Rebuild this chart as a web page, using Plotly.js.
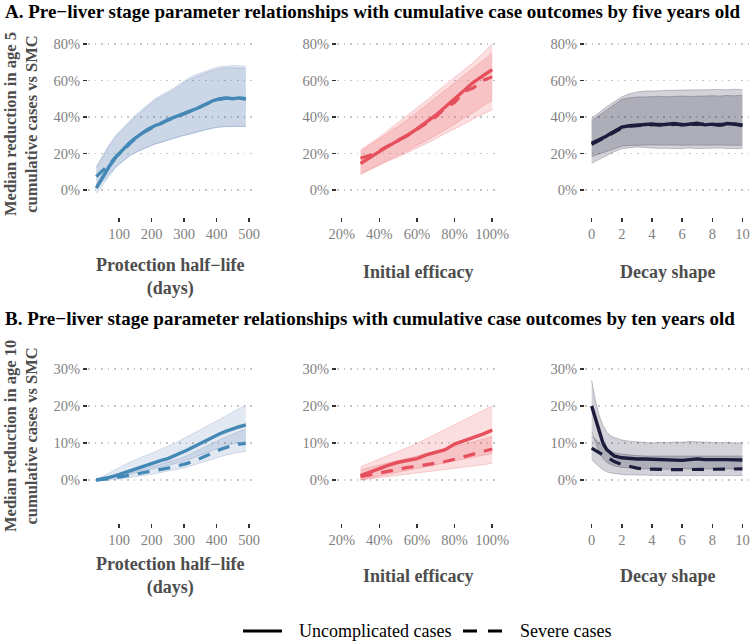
<!DOCTYPE html>
<html>
<head>
<meta charset="utf-8">
<script src="https://cdn.plot.ly/plotly-3.0.1.min.js"></script>
<style>html,body{margin:0;padding:0;background:#fff;}#chart{width:752px;height:643px;}</style>
</head>
<body>
<div id="chart"></div>
<script>
// ---------- x values ----------
const halfLife = [30,50,70,90,110,130,150,170,190,210,230,250,270,290,310,330,350,370,390,410,430,450,470,490];
const efficacy = [0.30,0.35,0.40,0.45,0.50,0.55,0.60,0.65,0.70,0.75,0.80,0.85,0.90,0.95,1.00];
const decayShape = [0,0.25,0.5,0.75,1,1.25,1.5,2,2.5,3,3.5,4,4.5,5,5.5,6,6.5,7,7.5,8,8.5,9,9.5,10];

// ---------- A1: half-life, age 5 ----------
const a1Unc   = [0.01,0.07,0.13,0.18,0.22,0.255,0.285,0.31,0.335,0.352,0.365,0.385,0.398,0.41,0.425,0.44,0.455,0.475,0.49,0.50,0.505,0.50,0.505,0.50];
const a1Sev   = [0.073,0.105,0.14,0.18,0.215,0.25,0.282,0.31,0.332,0.35,0.367,0.383,0.397,0.41,0.424,0.44,0.457,0.474,0.488,0.497,0.503,0.499,0.503,0.498];
const a1UncLo = [-0.02,0.03,0.08,0.125,0.155,0.185,0.205,0.222,0.238,0.252,0.262,0.275,0.285,0.295,0.303,0.312,0.322,0.333,0.34,0.345,0.348,0.348,0.35,0.348];
const a1UncHi = [0.12,0.18,0.24,0.29,0.33,0.365,0.40,0.43,0.46,0.49,0.51,0.53,0.55,0.575,0.60,0.615,0.63,0.645,0.655,0.665,0.67,0.67,0.668,0.665];
const a1SevLo = [0.01,0.05,0.09,0.125,0.155,0.183,0.204,0.222,0.237,0.25,0.262,0.274,0.284,0.294,0.303,0.312,0.322,0.333,0.34,0.345,0.348,0.349,0.35,0.348];
const a1SevHi = [0.13,0.19,0.25,0.30,0.34,0.375,0.41,0.44,0.47,0.50,0.52,0.54,0.56,0.585,0.61,0.628,0.642,0.656,0.666,0.675,0.68,0.682,0.68,0.678];

// ---------- A2: efficacy, age 5 ----------
const a2Unc   = [0.145,0.18,0.21,0.242,0.27,0.30,0.335,0.37,0.41,0.455,0.50,0.545,0.59,0.625,0.66];
const a2Sev   = [0.174,0.19,0.215,0.245,0.272,0.30,0.335,0.368,0.40,0.45,0.48,0.54,0.56,0.60,0.62];
const a2UncLo = [0.09,0.115,0.14,0.165,0.19,0.215,0.245,0.27,0.30,0.33,0.36,0.395,0.425,0.46,0.49];
const a2UncHi = [0.21,0.245,0.28,0.315,0.35,0.385,0.425,0.465,0.505,0.545,0.585,0.625,0.665,0.71,0.75];
const a2SevLo = [0.085,0.11,0.135,0.16,0.18,0.205,0.23,0.255,0.28,0.31,0.335,0.36,0.39,0.415,0.44];
const a2SevHi = [0.22,0.255,0.29,0.33,0.37,0.41,0.45,0.49,0.535,0.575,0.615,0.66,0.70,0.75,0.80];

// ---------- A3: decay shape, age 5 ----------
const a3Unc   = [0.256,0.265,0.275,0.285,0.296,0.31,0.322,0.345,0.352,0.354,0.36,0.362,0.356,0.36,0.364,0.356,0.362,0.366,0.357,0.361,0.355,0.364,0.36,0.356];
const a3Sev   = [0.25,0.26,0.27,0.282,0.293,0.305,0.318,0.34,0.35,0.352,0.356,0.358,0.36,0.355,0.36,0.36,0.358,0.36,0.362,0.358,0.36,0.358,0.362,0.352];
const a3UncLo = [0.183,0.19,0.197,0.204,0.21,0.218,0.226,0.24,0.244,0.246,0.245,0.247,0.246,0.244,0.246,0.245,0.247,0.246,0.245,0.247,0.246,0.245,0.246,0.245];
const a3UncHi = [0.393,0.41,0.425,0.44,0.456,0.47,0.485,0.511,0.527,0.537,0.542,0.545,0.544,0.546,0.547,0.545,0.548,0.547,0.55,0.548,0.551,0.549,0.552,0.55];
const a3SevLo = [0.146,0.157,0.168,0.18,0.19,0.2,0.21,0.226,0.232,0.236,0.233,0.23,0.228,0.229,0.226,0.228,0.23,0.227,0.229,0.228,0.23,0.227,0.229,0.228];
const a3SevHi = [0.38,0.395,0.41,0.425,0.44,0.455,0.47,0.497,0.505,0.51,0.51,0.512,0.513,0.511,0.514,0.515,0.513,0.516,0.515,0.517,0.515,0.518,0.516,0.52];

// ---------- B1: half-life, age 10 ----------
const b1Unc   = [0,0.003,0.007,0.012,0.018,0.025,0.031,0.037,0.043,0.048,0.053,0.058,0.065,0.072,0.081,0.09,0.099,0.108,0.117,0.125,0.132,0.139,0.144,0.149];
const b1Sev   = [0,0.001,0.003,0.006,0.009,0.012,0.016,0.019,0.022,0.025,0.029,0.032,0.036,0.04,0.045,0.051,0.058,0.066,0.074,0.082,0.089,0.094,0.097,0.099];
const b1UncLo = [-0.003,0,0.003,0.006,0.01,0.014,0.019,0.023,0.027,0.031,0.035,0.039,0.043,0.048,0.054,0.06,0.067,0.074,0.081,0.087,0.093,0.098,0.101,0.104];
const b1UncHi = [0,0.01,0.02,0.03,0.038,0.047,0.055,0.062,0.069,0.076,0.083,0.09,0.099,0.108,0.117,0.126,0.135,0.145,0.155,0.164,0.174,0.183,0.192,0.203];
const b1SevLo = [-0.003,-0.002,0,0.002,0.004,0.006,0.009,0.012,0.014,0.017,0.02,0.023,0.027,0.031,0.035,0.04,0.045,0.051,0.057,0.063,0.068,0.072,0.075,0.077];
const b1SevHi = [0,0.003,0.006,0.01,0.014,0.018,0.023,0.027,0.032,0.037,0.042,0.047,0.053,0.059,0.066,0.074,0.082,0.091,0.1,0.109,0.117,0.125,0.131,0.137];

// ---------- B2: efficacy, age 10 ----------
const b2Unc   = [0.012,0.022,0.031,0.04,0.048,0.053,0.058,0.068,0.074,0.082,0.097,0.106,0.114,0.124,0.135];
const b2Sev   = [0.009,0.014,0.02,0.026,0.031,0.034,0.037,0.041,0.046,0.05,0.056,0.063,0.07,0.078,0.084];
const b2UncLo = [0,0.006,0.011,0.016,0.021,0.026,0.031,0.036,0.041,0.046,0.051,0.056,0.061,0.066,0.072];
const b2UncHi = [0.036,0.046,0.057,0.067,0.078,0.088,0.099,0.112,0.125,0.137,0.149,0.162,0.175,0.188,0.2];
const b2SevLo = [0,0.003,0.006,0.009,0.012,0.015,0.018,0.021,0.024,0.027,0.03,0.034,0.038,0.041,0.045];
const b2SevHi = [0.028,0.034,0.04,0.046,0.052,0.058,0.064,0.07,0.076,0.083,0.09,0.097,0.104,0.11,0.117];

// ---------- B3: decay shape, age 10 ----------
const b3Unc   = [0.2,0.165,0.13,0.1,0.082,0.072,0.065,0.06,0.058,0.057,0.057,0.056,0.055,0.055,0.054,0.053,0.055,0.057,0.055,0.056,0.055,0.055,0.054,0.054];
const b3Sev   = [0.086,0.08,0.073,0.066,0.06,0.055,0.05,0.042,0.036,0.032,0.03,0.029,0.028,0.028,0.028,0.028,0.029,0.029,0.029,0.029,0.029,0.029,0.03,0.03];
const b3UncLo = [0.13,0.1,0.075,0.058,0.048,0.042,0.038,0.034,0.032,0.031,0.03,0.03,0.029,0.029,0.03,0.029,0.03,0.03,0.029,0.03,0.03,0.029,0.03,0.03];
const b3UncHi = [0.27,0.215,0.175,0.148,0.13,0.12,0.115,0.108,0.105,0.103,0.101,0.1,0.102,0.101,0.103,0.102,0.104,0.103,0.104,0.102,0.101,0.102,0.1,0.101];
const b3SevLo = [0.055,0.045,0.036,0.028,0.022,0.019,0.017,0.015,0.014,0.013,0.013,0.012,0.012,0.012,0.012,0.012,0.012,0.012,0.012,0.012,0.012,0.012,0.012,0.012];
const b3SevHi = [0.12,0.11,0.1,0.09,0.083,0.078,0.074,0.07,0.067,0.066,0.065,0.065,0.064,0.065,0.064,0.064,0.065,0.066,0.065,0.065,0.064,0.065,0.065,0.065];

// ---------- tick labels ----------
const halfLifeTicks = [100,200,300,400,500];
const efficacyTicks = [0.2,0.4,0.6,0.8,1.0];
const decayTicks = [0,2,4,6,8,10];
const age5Ticks = [0,0.2,0.4,0.6,0.8];
const age10Ticks = [0,0.1,0.2,0.3];

const legendNames = ['Uncomplicated cases','Severe cases'];

// ---------- styling ----------
const FONT = '"Liberation Serif", serif';
const DASH = '12px,9px';
const blue = {line:'#4488B6', fill:'rgba(70,110,170,0.15)', edge:'rgba(70,110,170,0.35)'};
const red  = {line:'#E6505D', fill:'rgba(235,80,85,0.19)', edge:'rgba(235,80,85,0.4)'};
const navy = {line:'#1E1C3C', fill:'rgba(30,28,60,0.2)', edge:'rgba(30,28,60,0.4)'};

const traces = [];
function band(x, lo, hi, col, ax) {
  traces.push({x:x, y:lo, xaxis:'x'+ax, yaxis:'y'+ax, mode:'lines', line:{color:col.edge, width:0.6}, showlegend:false, hoverinfo:'skip'});
  traces.push({x:x, y:hi, xaxis:'x'+ax, yaxis:'y'+ax, mode:'lines', line:{color:col.edge, width:0.6}, fill:'tonexty', fillcolor:col.fill, showlegend:false, hoverinfo:'skip'});
}
function panel(x, unc, sev, uLo, uHi, sLo, sHi, col, ax) {
  band(x, uLo, uHi, col, ax);
  band(x, sLo, sHi, col, ax);
  traces.push({x:x, y:sev, xaxis:'x'+ax, yaxis:'y'+ax, mode:'lines', name:legendNames[1], line:{color:col.line, width:3.2, dash:DASH}, showlegend:false});
  traces.push({x:x, y:unc, xaxis:'x'+ax, yaxis:'y'+ax, mode:'lines', name:legendNames[0], line:{color:col.line, width:3.4}, showlegend:false});
}
panel(halfLife, a1Unc, a1Sev, a1UncLo, a1UncHi, a1SevLo, a1SevHi, blue, '');
panel(efficacy, a2Unc, a2Sev, a2UncLo, a2UncHi, a2SevLo, a2SevHi, red, '2');
panel(decayShape, a3Unc, a3Sev, a3UncLo, a3UncHi, a3SevLo, a3SevHi, navy, '3');
panel(halfLife, b1Unc, b1Sev, b1UncLo, b1UncHi, b1SevLo, b1SevHi, blue, '4');
panel(efficacy, b2Unc, b2Sev, b2UncLo, b2UncHi, b2SevLo, b2SevHi, red, '5');
panel(decayShape, b3Unc, b3Sev, b3UncLo, b3UncHi, b3SevLo, b3SevHi, navy, '6');

const W = 752, H = 643;
const px = v => v / W;
const py = v => 1 - v / H;
const cols = [[88,252],[337,499],[585,751]];
const rows = [[217,36],[523,362]];
const xRanges = [[4.6,509],[0.175,1.036],[-0.44,10.57]];
const yRanges = [[-0.148,0.844],[-0.1162,0.319]];
const xTickSets = [halfLifeTicks, efficacyTicks, decayTicks];
const xFormats = ['d','.0%','d'];
const yTickSets = [age5Ticks, age10Ticks];
const tickFont = {family:FONT, size:14.5, color:'#7f7f7f'};

const layout = {
  width: W, height: H,
  margin: {l:0, r:0, t:0, b:0},
  paper_bgcolor: '#fff', plot_bgcolor: 'rgba(0,0,0,0)',
  font: {family: FONT, color:'#7f7f7f', size:16},
  showlegend: false,
  annotations: [],
  shapes: [],
};
for (let r = 0; r < 2; r++) {
  for (let c = 0; c < 3; c++) {
    const idx = r*3 + c + 1;
    const s = idx === 1 ? '' : String(idx);
    layout['xaxis'+s] = {
      domain:[px(cols[c][0]), px(cols[c][1])], range:xRanges[c], anchor:'y'+s,
      tickvals:xTickSets[c], tickformat:xFormats[c], ticks:'outside', ticklen:4, tickwidth:1.5, tickcolor:'#333',
      showgrid:false, zeroline:false, showline:false, tickfont:tickFont, fixedrange:true
    };
    layout['yaxis'+s] = {
      domain:[py(rows[r][0]), py(rows[r][1])], range:yRanges[r], anchor:'x'+s,
      tickvals:yTickSets[r], tickformat:'.0%', ticks:'outside', ticklen:4, tickwidth:1.5, tickcolor:'#333',
      showgrid:true, gridcolor:'#c4c4c4', gridwidth:1.5, griddash:'1.5px,5px', zeroline:false, showline:false,
      tickfont:tickFont, fixedrange:true
    };
  }
}
function ann(text, x, y, opts) {
  layout.annotations.push(Object.assign({text:text, x:px(x), y:py(y), xref:'paper', yref:'paper', showarrow:false,
    font:{family:FONT, size:18, color:'#4d4d4d'}}, opts || {}));
}
ann('<b>A. Pre−liver stage parameter relationships with cumulative case outcomes by five years old</b>', 3, 11,
    {xanchor:'left', yanchor:'middle', font:{family:FONT, size:19, color:'#000'}});
ann('<b>B. Pre−liver stage parameter relationships with cumulative case outcomes by ten years old</b>', 3, 318,
    {xanchor:'left', yanchor:'middle', font:{family:FONT, size:19, color:'#000'}});
ann('<b>Median reduction in age 5<br>cumulative cases vs SMC</b>', 21, 124,
    {textangle:-90, xanchor:'center', yanchor:'middle', font:{family:FONT, size:16.5, color:'#4d4d4d'}});
ann('<b>Median reduction in age 10<br>cumulative cases vs SMC</b>', 21, 436,
    {textangle:-90, xanchor:'center', yanchor:'middle', font:{family:FONT, size:16.5, color:'#4d4d4d'}});
const xTitles = ['<b>Protection half−life<br>(days)</b>', '<b>Initial efficacy</b>', '<b>Decay shape</b>'];
const xTitleY = [[277, 272, 272],[576, 576, 576]];
for (let r = 0; r < 2; r++) {
  for (let c = 0; c < 3; c++) {
    ann(xTitles[c], (cols[c][0]+cols[c][1])/2, xTitleY[r][c], {xanchor:'center', yanchor:'middle'});
  }
}
// legend (bottom, drawn as keys + labels)
const legY = 631;
layout.shapes.push({type:'line', xref:'paper', yref:'paper', x0:px(243), x1:px(282), y0:py(legY), y1:py(legY), line:{color:'#000', width:3}});
layout.shapes.push({type:'line', xref:'paper', yref:'paper', x0:px(463), x1:px(502), y0:py(legY), y1:py(legY), line:{color:'#000', width:3, dash:'14px,11px'}});
ann(legendNames[0], 297, legY, {xanchor:'left', yanchor:'middle', font:{family:FONT, size:18, color:'#000'}});
ann(legendNames[1], 518, legY, {xanchor:'left', yanchor:'middle', font:{family:FONT, size:18, color:'#000'}});

Plotly.newPlot('chart', traces, layout, {displayModeBar:false, staticPlot:true});
</script>
</body>
</html>
